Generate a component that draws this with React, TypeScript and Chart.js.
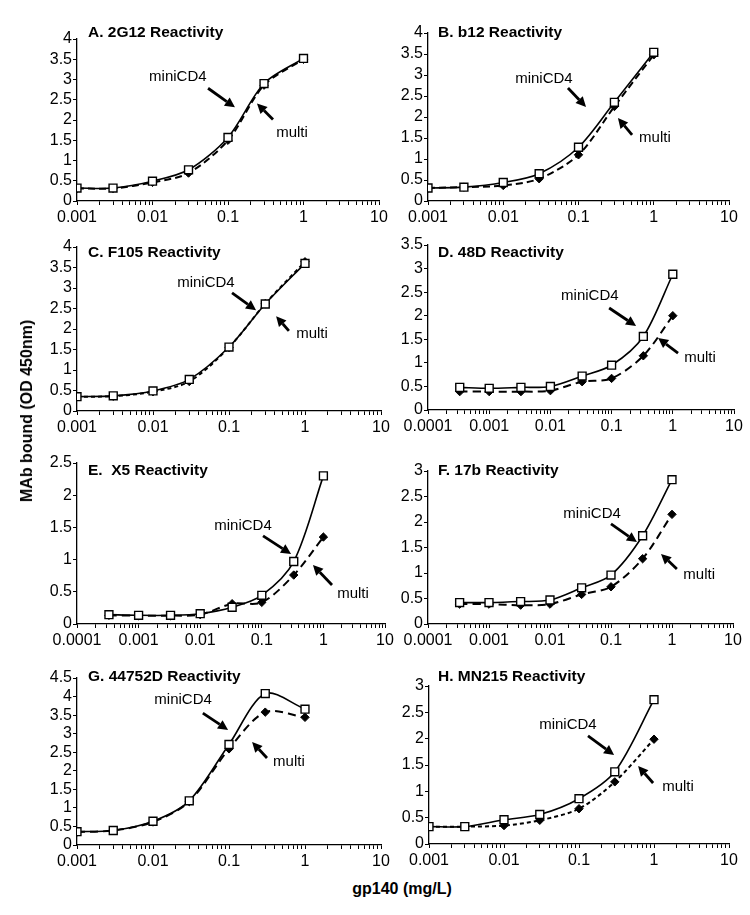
import React, { useEffect, useRef } from 'react';
import { Chart, registerables } from 'chart.js';

Chart.register(...registerables);

const FONT = '"Liberation Sans", Arial, Helvetica, sans-serif';

// ---- data ----
const concA = [0.001, 0.003, 0.01, 0.03, 0.1, 0.3, 1];
const concD = [0.00033, 0.001, 0.0033, 0.01, 0.033, 0.1, 0.33, 1];

const decades3 = ['0.001', '0.01', '0.1', '1', '10'];
const decades4 = ['0.0001', '0.001', '0.01', '0.1', '1', '10'];

const aMini = [0.32, 0.32, 0.49, 0.77, 1.57, 2.9, 3.52];
const aMulti = [0.31, 0.31, 0.46, 0.69, 1.5, 2.86, 3.5];
const bMini = [0.31, 0.33, 0.44, 0.65, 1.28, 2.35, 3.54];
const bMulti = [0.31, 0.33, 0.37, 0.53, 1.1, 2.25, 3.48];
const cMini = [0.35, 0.37, 0.49, 0.77, 1.56, 2.61, 3.6];
const cMulti = [0.35, 0.36, 0.47, 0.72, 1.55, 2.62, 3.64];
const dMini = [0.48, 0.46, 0.48, 0.5, 0.72, 0.95, 1.56, 2.88];
const dMulti = [0.39, 0.39, 0.39, 0.41, 0.6, 0.67, 1.15, 2.0];
const eMini = [0.145, 0.135, 0.135, 0.16, 0.26, 0.445, 0.97, 2.3];
const eMulti = [0.135, 0.13, 0.13, 0.145, 0.315, 0.336, 0.76, 1.35];
const fMini = [0.42, 0.42, 0.44, 0.47, 0.71, 0.96, 1.73, 2.83];
const fMulti = [0.39, 0.39, 0.37, 0.39, 0.58, 0.73, 1.28, 2.15];
const gMini = [0.36, 0.39, 0.64, 1.19, 2.71, 4.08, 3.66];
const gMulti = [0.35, 0.39, 0.62, 1.17, 2.59, 3.58, 3.44];
const hMini = [0.33, 0.33, 0.46, 0.56, 0.86, 1.37, 2.74];
const hMulti = [0.33, 0.33, 0.35, 0.45, 0.67, 1.18, 1.99];

const seriesNames = ['miniCD4', 'multi'];
const yAxisTitle = 'MAb bound (OD 450nm)';
const xAxisTitle = 'gp140 (mg/L)';
const yStep = 0.5;

// ---- layout (plot rectangles in page px: left, top, right, bottom) ----
type Note = { t: string; tx: number; ty: number; x1: number; y1: number; x2: number; y2: number };
type Panel = {
  title: string; rect: number[]; xs: number[]; decades: string[]; yMax: number;
  mini: number[]; multi: number[]; dash: number[]; tdx: number; tdy: number; notes: Note[];
};

const mk = (a: number[], b: number[]): Note[] => [
  { t: seriesNames[0], tx: a[0], ty: a[1], x1: a[2], y1: a[3], x2: a[4], y2: a[5] },
  { t: seriesNames[1], tx: b[0], ty: b[1], x1: b[2], y1: b[3], x2: b[4], y2: b[5] },
];

const panels: Panel[] = [
  { title: 'A. 2G12 Reactivity', rect: [77, 39, 379, 201], xs: concA, decades: decades3, yMax: 4, mini: aMini, multi: aMulti, dash: [7, 4], tdx: 11, tdy: -6,
    notes: mk([0.334, 0.236, 0.434, 0.304, 0.523, 0.422], [0.712, 0.578, 0.649, 0.497, 0.596, 0.398]) },
  { title: 'B. b12 Reactivity', rect: [428, 33, 729, 201], xs: concA, decades: decades3, yMax: 4, mini: bMini, multi: bMulti, dash: [7, 4], tdx: 10, tdy: 0,
    notes: mk([0.385, 0.274, 0.465, 0.327, 0.525, 0.44], [0.754, 0.625, 0.678, 0.607, 0.631, 0.506]) },
  { title: 'C. F105 Reactivity', rect: [77, 247, 381, 411], xs: concA, decades: decades3, yMax: 4, mini: cMini, multi: cMulti, dash: [4, 3], tdx: 11, tdy: 6,
    notes: mk([0.424, 0.219, 0.51, 0.28, 0.589, 0.385], [0.773, 0.531, 0.697, 0.511, 0.655, 0.422]) },
  { title: 'D. 48D Reactivity', rect: [428, 245, 734, 410], xs: concD, decades: decades4, yMax: 3.5, mini: dMini, multi: dMulti, dash: [8, 5], tdx: 10, tdy: 8,
    notes: mk([0.529, 0.309, 0.592, 0.382, 0.68, 0.491], [0.889, 0.685, 0.817, 0.655, 0.752, 0.564]) },
  { title: 'E.  X5 Reactivity', rect: [77, 463, 385, 624], xs: concD, decades: decades4, yMax: 2.5, mini: eMini, multi: eMulti, dash: [8, 5], tdx: 11, tdy: 8,
    notes: mk([0.539, 0.391, 0.604, 0.453, 0.695, 0.565], [0.896, 0.814, 0.828, 0.758, 0.766, 0.634]) },
  { title: 'F. 17b Reactivity', rect: [428, 471, 733, 624], xs: concD, decades: decades4, yMax: 3, mini: fMini, multi: fMulti, dash: [8, 5], tdx: 10, tdy: 0,
    notes: mk([0.538, 0.281, 0.6, 0.346, 0.685, 0.464], [0.889, 0.68, 0.816, 0.64, 0.764, 0.542]) },
  { title: 'G. 44752D Reactivity', rect: [77, 678, 381, 845], xs: concA, decades: decades3, yMax: 4.5, mini: gMini, multi: gMulti, dash: [8, 5], tdx: 11, tdy: -1,
    notes: mk([0.349, 0.132, 0.414, 0.21, 0.497, 0.311], [0.697, 0.503, 0.625, 0.479, 0.576, 0.383]) },
  { title: 'H. MN215 Reactivity', rect: [429, 686, 729, 844], xs: concA, decades: decades3, yMax: 3, mini: hMini, multi: hMulti, dash: [4, 3], tdx: 9, tdy: -9,
    notes: mk([0.463, 0.247, 0.53, 0.316, 0.617, 0.437], [0.83, 0.639, 0.747, 0.614, 0.697, 0.506]) },
];

const PAD_L = 50; // y-axis box width
const PAD_T = 22;
const PAD_R = 22;
const PAD_B = 28; // x-axis box height

function drawArrow(ctx: CanvasRenderingContext2D, x1: number, y1: number, x2: number, y2: number) {
  const ang = Math.atan2(y2 - y1, x2 - x1);
  const hl = 10, hw = 5;
  const bx = x2 - hl * Math.cos(ang), by = y2 - hl * Math.sin(ang);
  ctx.lineWidth = 2.8;
  ctx.strokeStyle = '#000';
  ctx.fillStyle = '#000';
  ctx.beginPath();
  ctx.moveTo(x1, y1);
  ctx.lineTo(bx, by);
  ctx.stroke();
  ctx.beginPath();
  ctx.moveTo(x2, y2);
  ctx.lineTo(bx - hw * Math.sin(ang), by + hw * Math.cos(ang));
  ctx.lineTo(bx + hw * Math.sin(ang), by - hw * Math.cos(ang));
  ctx.closePath();
  ctx.fill();
}

function PanelChart({ p }: { p: Panel }) {
  const ref = useRef<HTMLCanvasElement>(null);
  const [l, t, r, b] = p.rect;
  const w = r - l + PAD_L + PAD_R;
  const h = b - t + PAD_T + PAD_B;

  useEffect(() => {
    if (!ref.current) return;
    const xMin = Number(p.decades[0]);
    const decVals = p.decades.map(Number);
    const annot = {
      id: 'annot' + p.title.charAt(0),
      afterDatasetsDraw(chart: any) {
        const { ctx, chartArea: ca } = chart;
        const X = (f: number) => ca.left + f * (ca.right - ca.left);
        const Y = (f: number) => ca.top + f * (ca.bottom - ca.top);
        ctx.save();
        ctx.fillStyle = '#000';
        ctx.font = `bold 15.5px ${FONT}`;
        ctx.textAlign = 'left';
        ctx.textBaseline = 'middle';
        ctx.fillText(p.title, ca.left + p.tdx, ca.top + p.tdy);
        ctx.font = `15px ${FONT}`;
        ctx.textAlign = 'center';
        for (const n of p.notes) {
          ctx.fillStyle = '#000';
          ctx.fillText(n.t, X(n.tx), Y(n.ty));
          drawArrow(ctx, X(n.x1), Y(n.y1), X(n.x2), Y(n.y2));
        }
        ctx.restore();
      },
    };
    const tickFont = { family: FONT, size: 16, lineHeight: 1.1 };
    const chart = new Chart(ref.current, {
      type: 'line',
      data: {
        datasets: [
          {
            label: seriesNames[0],
            data: p.xs.map((x, i) => ({ x, y: p.mini[i] })),
            borderColor: '#000',
            borderWidth: 1.6,
            pointStyle: 'rect',
            pointRadius: 5.6,
            pointBackgroundColor: '#fff',
            pointBorderColor: '#000',
            pointBorderWidth: 1.4,
            tension: 0.3,
            fill: false,
          },
          {
            label: seriesNames[1],
            data: p.xs.map((x, i) => ({ x, y: p.multi[i] })),
            borderColor: '#000',
            borderWidth: 2,
            borderDash: p.dash,
            pointStyle: 'rectRot',
            pointRadius: 4.2,
            pointBackgroundColor: '#000',
            pointBorderColor: '#000',
            pointBorderWidth: 1,
            tension: 0.3,
            fill: false,
          },
        ],
      },
      options: {
        responsive: false,
        animation: false,
        events: [],
        layout: { padding: { left: 0, top: PAD_T, right: PAD_R, bottom: 0 } },
        plugins: { legend: { display: false }, tooltip: { enabled: false }, title: { display: false } },
        scales: {
          x: {
            type: 'logarithmic',
            min: xMin,
            max: 10,
            afterBuildTicks: (scale: any) => {
              const ticks: { value: number }[] = [];
              const e0 = Math.round(Math.log10(xMin));
              for (let e = e0; e < 1; e++) {
                for (let m = 1; m <= 9; m++) {
                  ticks.push({ value: Number((m * Math.pow(10, e)).toPrecision(6)) });
                }
              }
              ticks.push({ value: 10 });
              scale.ticks = ticks;
            },
            afterFit: (scale: any) => { scale.height = PAD_B; },
            grid: { display: true, drawOnChartArea: false, drawTicks: true, tickLength: 4, tickColor: '#000', tickWidth: 1 },
            border: { display: true, color: '#000', width: 1.3 },
            ticks: {
              autoSkip: false,
              maxRotation: 0,
              minRotation: 0,
              padding: 4,
              color: '#000',
              font: tickFont,
              callback: (value: any) => {
                const v = Number(value);
                const idx = decVals.findIndex((d) => Math.abs(Math.log10(v) - Math.log10(d)) < 1e-6);
                return idx >= 0 ? p.decades[idx] : '';
              },
            },
          },
          y: {
            type: 'linear',
            min: 0,
            max: p.yMax,
            afterBuildTicks: (scale: any) => {
              const ticks: { value: number }[] = [];
              const n = Math.round(p.yMax / yStep);
              for (let i = 0; i <= n; i++) ticks.push({ value: i * yStep });
              scale.ticks = ticks;
            },
            afterFit: (scale: any) => { scale.width = PAD_L; },
            grid: { display: true, drawOnChartArea: false, drawTicks: true, tickLength: 4, tickColor: '#000', tickWidth: 1 },
            border: { display: true, color: '#000', width: 1.3 },
            ticks: {
              autoSkip: false,
              padding: 1,
              color: '#000',
              font: tickFont,
              callback: (value: any) => String(Number(value)),
            },
          },
        },
      },
      plugins: [annot],
    } as any);
    return () => chart.destroy();
  }, []);

  return (
    <canvas
      ref={ref}
      width={w}
      height={h}
      style={{ position: 'absolute', left: l - PAD_L, top: t - PAD_T, width: w, height: h }}
    />
  );
}

export default function App() {
  return (
    <div style={{ position: 'absolute', left: 0, top: 0, width: 750, height: 915, background: '#fff', overflow: 'hidden' }}>
      {panels.map((p) => (
        <PanelChart key={p.title} p={p} />
      ))}
      <div
        style={{
          position: 'absolute', left: 27, top: 411, transform: 'translate(-50%, -50%) rotate(-90deg)',
          whiteSpace: 'nowrap', font: `bold 16px ${FONT}`, color: '#000',
        }}
      >
        {yAxisTitle}
      </div>
      <div
        style={{
          position: 'absolute', left: 402, top: 889, transform: 'translate(-50%, -50%)',
          whiteSpace: 'nowrap', font: `bold 16px ${FONT}`, color: '#000',
        }}
      >
        {xAxisTitle}
      </div>
    </div>
  );
}
